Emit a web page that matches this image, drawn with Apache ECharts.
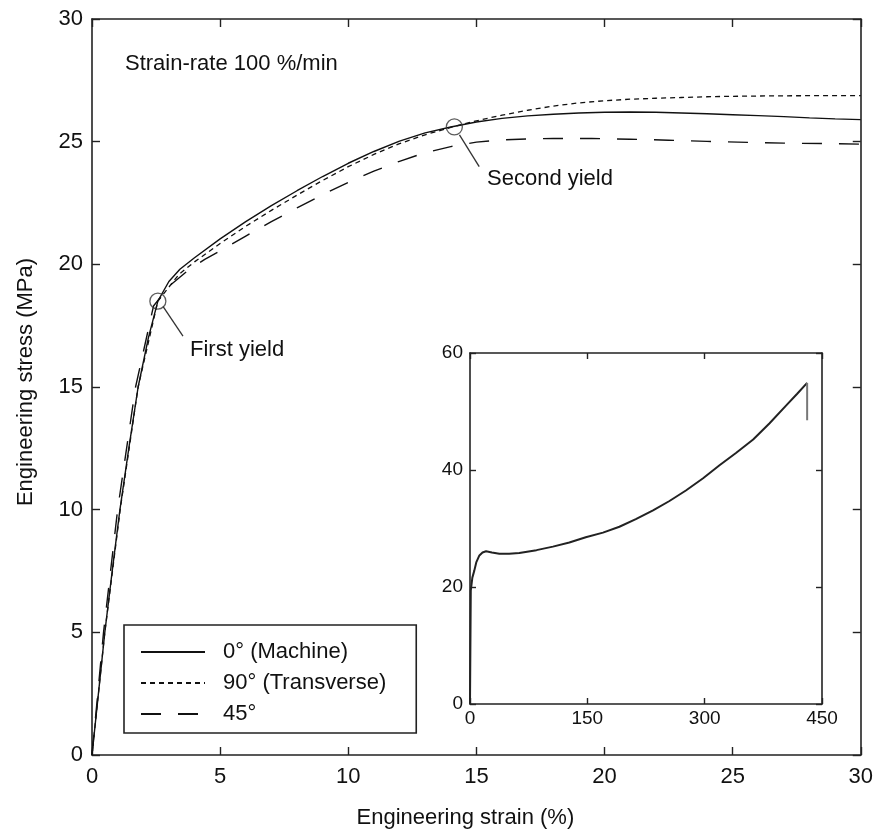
<!DOCTYPE html>
<html><head><meta charset="utf-8">
<script src="https://cdn.jsdelivr.net/npm/echarts@6/dist/echarts.min.js"></script>
<style>html,body{margin:0;padding:0;background:#fff}#c{width:876px;height:834px}</style>
</head><body><div id="c"></div>
<script>
// ---- data ----
const mainTicksX = [0, 5, 10, 15, 20, 25, 30];
const mainTicksY = [0, 5, 10, 15, 20, 25, 30];
const insetTicksX = [0, 150, 300, 450];
const insetTicksY = [0, 20, 40, 60];

const seriesNames = ['0° (Machine)', '90° (Transverse)', '45°'];

const strain0 = [0,0.25,0.5,0.8,1.09,1.45,1.8,2.2,2.57,3.0,3.43,4,5,6,7,8,9,10,11,12,13,14,15,16,17,18,19,20,21,22,23,24,25,26,27,28,29,30];
const stress0 = [0,2.5,5,7.6,10,12.6,15,17,18.5,19.3,19.8,20.27,21.04,21.74,22.39,23.0,23.58,24.12,24.6,25.02,25.36,25.6,25.8,25.95,26.05,26.12,26.17,26.2,26.21,26.2,26.17,26.14,26.1,26.06,26.02,25.97,25.93,25.9];

const strain90 = [0,0.5,1.1,1.8,2.57,3.4,4,5,6,7,8,9,10,11,12,13,14,15,16,17,18,19,20,21,22,23,24,25,27,30];
const stress90 = [0,5,10,15,18.5,19.6,20.1,20.85,21.55,22.2,22.82,23.42,23.98,24.48,24.92,25.28,25.58,25.85,26.08,26.28,26.45,26.58,26.67,26.73,26.77,26.8,26.83,26.85,26.87,26.88];

const strain45 = [0,0.45,1.0,1.7,2.4,3.0,3.8,4.4,5,6,7,8,9,10,11,12,13,14,15,16,17,18,19.5,21,22.5,24,25.6,27,28.7,30];
const stress45 = [0,5,10,15,18.3,19.1,19.8,20.2,20.55,21.15,21.74,22.3,22.84,23.34,23.8,24.2,24.55,24.8,24.98,25.07,25.11,25.13,25.13,25.1,25.06,25.01,24.97,24.94,24.92,24.9];

const insetStrain = [0,1,3,5.5,8,12,16,20.5,28,37.5,50,63,85,106,127,148,170,191,212,234,255,276,298,319,340,362,383,404,418,431];
const insetStress = [0,19.4,21.6,22.8,24.2,25.4,25.9,26.1,25.9,25.7,25.7,25.8,26.3,26.9,27.6,28.5,29.3,30.3,31.6,33.1,34.7,36.5,38.6,40.8,42.9,45.2,48.0,51.0,53.0,54.9];
const insetDropStrain = [431, 431];
const insetDropStress = [54.9, 48.5];

const yieldNames = ['First yield', 'Second yield'];
const yieldStrain = [2.57, 14.14];
const yieldStress = [18.5, 25.6];
const leaderStrain = [[2.77, 3.55], [14.34, 15.11]];
const leaderStress = [[18.29, 17.07], [25.28, 23.98]];
const labelStrain = [3.82, 15.43];
const labelStress = [16.5, 23.46];

const noteText = 'Strain-rate 100 %/min';
const xTitle = 'Engineering strain (%)';
const yTitle = 'Engineering stress (MPa)';

// ---- build ----
const zip = (a, b) => a.map((v, i) => [v, b[i]]);
const FONT = '"Liberation Sans", Arial, sans-serif';
const INK = '#111';
const axisLine = { show: true, onZero: false, lineStyle: { color: '#222', width: 1.6 } };

function axis(gridIndex, pos, min, max, interval, tickLen, labelShow, fontSize, margin, extra) {
  return Object.assign({
    gridIndex, type: 'value', position: pos, min, max, interval,
    axisLine,
    axisTick: { show: true, inside: true, length: tickLen, lineStyle: { color: '#222', width: 1.4 } },
    axisLabel: { show: labelShow, color: INK, fontSize, fontFamily: FONT, margin },
    splitLine: { show: false }
  }, extra || {});
}

const lineBase = { type: 'line', symbol: 'none', smooth: false, xAxisIndex: 0, yAxisIndex: 0, z: 3 };

const option = {
  animation: false,
  backgroundColor: '#fff',
  textStyle: { fontFamily: FONT, color: INK },
  title: {
    text: noteText, left: 125, top: 53, padding: 0,
    textStyle: { fontSize: 22, fontWeight: 'normal', color: INK, fontFamily: FONT }
  },
  grid: [
    { left: 92, top: 19, right: 14, bottom: 77, show: false },
    { left: 470, top: 353, right: 54, bottom: 130, show: true, backgroundColor: '#fff', borderWidth: 0, z: 5 }
  ],
  xAxis: [
    axis(0, 'bottom', mainTicksX[0], mainTicksX[mainTicksX.length - 1], 5, 8, true, 22, 11, {
      name: xTitle, nameLocation: 'middle', nameGap: 52,
      nameTextStyle: { fontSize: 22, color: INK, fontFamily: FONT, padding: [0, 22, 0, 0] }
    }),
    axis(0, 'top', mainTicksX[0], mainTicksX[mainTicksX.length - 1], 5, 8, false, 22, 9),
    axis(1, 'bottom', insetTicksX[0], insetTicksX[insetTicksX.length - 1], 150, 6, true, 19, 5, { z: 6 }),
    axis(1, 'top', insetTicksX[0], insetTicksX[insetTicksX.length - 1], 150, 6, false, 19, 4, { z: 6 })
  ],
  yAxis: [
    axis(0, 'left', mainTicksY[0], mainTicksY[mainTicksY.length - 1], 5, 8, true, 22, 9, {
      name: yTitle, nameLocation: 'middle', nameGap: 55,
      nameTextStyle: { fontSize: 22, color: INK, fontFamily: FONT, padding: [0, 0, 0, 10] }
    }),
    axis(0, 'right', mainTicksY[0], mainTicksY[mainTicksY.length - 1], 5, 8, false, 22, 9),
    axis(1, 'left', insetTicksY[0], insetTicksY[insetTicksY.length - 1], 20, 6, true, 19, 7, { z: 6 }),
    axis(1, 'right', insetTicksY[0], insetTicksY[insetTicksY.length - 1], 20, 6, false, 19, 7, { z: 6 })
  ],
  legend: {
    data: seriesNames,
    orient: 'vertical', left: 124, top: 625,
    padding: [16, 30, 8, 16],
    itemWidth: 64, itemHeight: 14, itemGap: 9,
    borderColor: '#222', borderWidth: 1.6, backgroundColor: '#fff',
    itemStyle: { opacity: 0, color: 'transparent', borderWidth: 0 },
    textStyle: { fontSize: 22, color: INK, fontFamily: FONT, padding: [0, 0, 0, 13] }
  },
  series: [
    Object.assign({}, lineBase, { name: seriesNames[0], data: zip(strain0, stress0),
      lineStyle: { color: INK, width: 1.4, type: 'solid' }, itemStyle: { color: 'transparent' } }),
    Object.assign({}, lineBase, { name: seriesNames[1], data: zip(strain90, stress90),
      lineStyle: { color: INK, width: 1.3, type: [5, 4] }, itemStyle: { color: 'transparent' } }),
    Object.assign({}, lineBase, { name: seriesNames[2], data: zip(strain45, stress45),
      lineStyle: { color: INK, width: 1.4, type: [20, 17] }, itemStyle: { color: 'transparent' } }),
    {
      type: 'scatter', name: 'yield', xAxisIndex: 0, yAxisIndex: 0, z: 4,
      symbol: 'circle', symbolSize: 16,
      itemStyle: { color: 'transparent', borderColor: '#333', borderWidth: 1.3 },
      data: zip(yieldStrain, yieldStress)
    },
    {
      type: 'line', name: 'leader1', xAxisIndex: 0, yAxisIndex: 0, symbol: 'none', z: 4,
      lineStyle: { color: '#333', width: 1.3 }, data: zip(leaderStrain[0], leaderStress[0])
    },
    {
      type: 'line', name: 'leader2', xAxisIndex: 0, yAxisIndex: 0, symbol: 'none', z: 4,
      lineStyle: { color: '#333', width: 1.3 }, data: zip(leaderStrain[1], leaderStress[1])
    },
    {
      type: 'line', name: 'inset', xAxisIndex: 2, yAxisIndex: 2, symbol: 'none', z: 7,
      smooth: false,
      lineStyle: { color: '#222', width: 2 }, data: zip(insetStrain, insetStress)
    },
    {
      type: 'line', name: 'insetDrop', xAxisIndex: 2, yAxisIndex: 2, symbol: 'none', z: 7,
      lineStyle: { color: '#777', width: 2 }, data: zip(insetDropStrain, insetDropStress)
    }
  ]
};

const chart = echarts.init(document.getElementById('c'), null, { renderer: 'canvas' });
chart.setOption(option);

// annotation texts placed through the main axes' scales, snapped to whole pixels
const notes = yieldNames.map((t, i) => {
  const p = chart.convertToPixel({ xAxisIndex: 0, yAxisIndex: 0 }, [labelStrain[i], labelStress[i]]);
  return {
    type: 'text', x: Math.round(p[0]), y: Math.round(p[1]), z: 10,
    style: { text: t, fill: INK, font: '22px ' + FONT, textAlign: 'left', textVerticalAlign: 'middle' }
  };
});
chart.setOption({ graphic: notes });
</script>
</body></html>
